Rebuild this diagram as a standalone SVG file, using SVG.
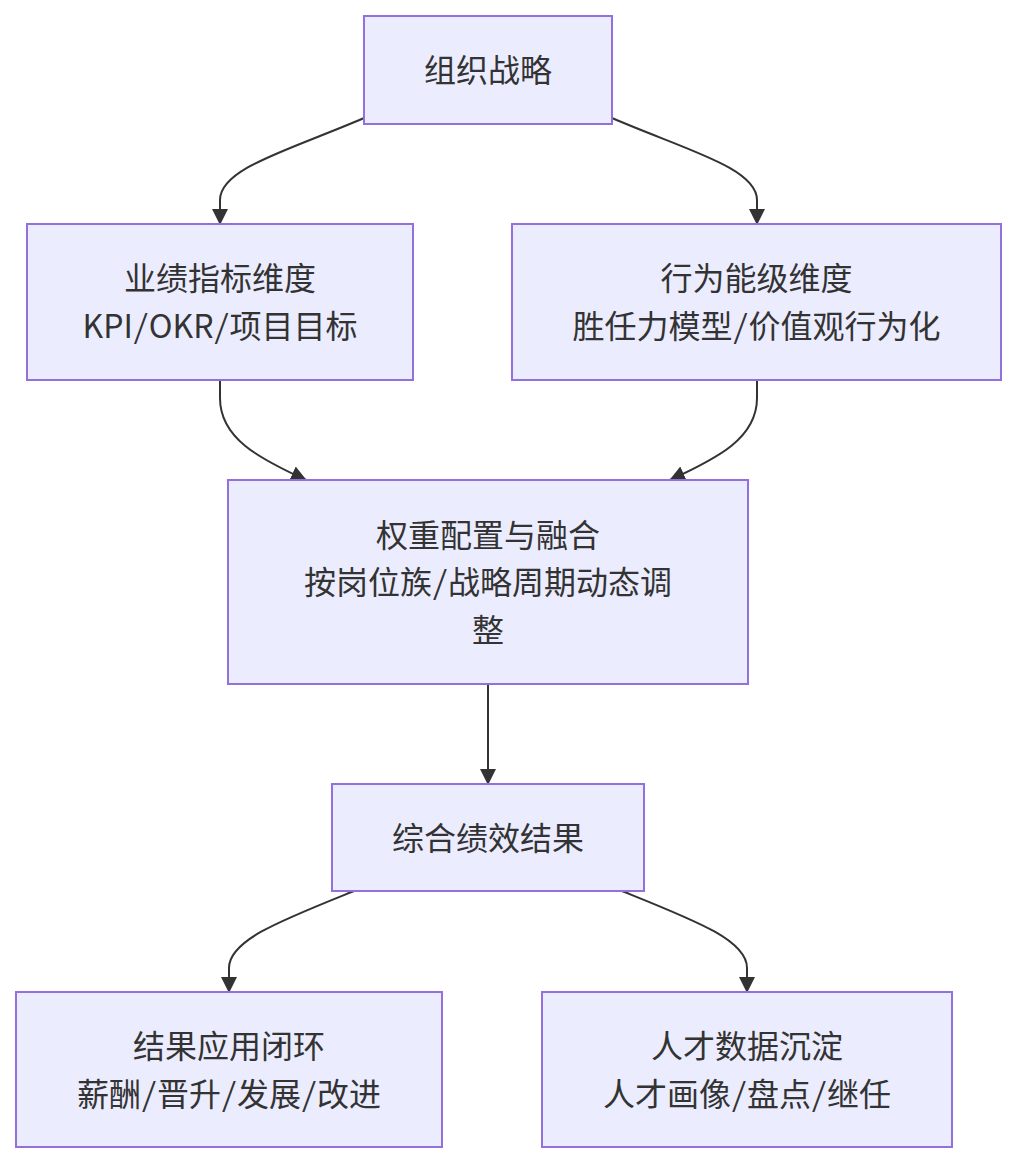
<svg xmlns="http://www.w3.org/2000/svg" width="1017" height="1164" viewBox="0 0 1017 1164">
<style>
.node rect{fill:#ECECFF;stroke:#9370DB;stroke-width:2}
.node text{font-family:"Noto Sans Mono CJK SC","Noto Sans CJK SC","Noto Sans",sans-serif;font-size:32px;fill:#333333;text-anchor:middle;dominant-baseline:central}
.node tspan.lat{font-family:"Noto Sans CJK SC","Noto Sans",sans-serif}
.edges path{fill:none;stroke:#333333;stroke-width:2}
</style>
<defs>
<marker id="arrow" viewBox="0 0 16 16" refX="15" refY="8" markerWidth="16" markerHeight="16" markerUnits="userSpaceOnUse" orient="auto">
<path d="M0,0 L16,8 L0,16 Z" fill="#333333"/>
</marker>
</defs>
<rect width="1017" height="1164" fill="#ffffff"/>
<g class="edges">
<path d="M364,118 C290,150 220,168 220,200 L220,224" marker-end="url(#arrow)"/>
<path d="M612,118 C686,150 757,168 757,200 L757,224" marker-end="url(#arrow)"/>
<path d="M220,380 L220,398 C220,438 258,458 306,480" marker-end="url(#arrow)"/>
<path d="M757,380 L757,398 C757,438 718,458 670,480" marker-end="url(#arrow)"/>
<path d="M488,684 L488,784" marker-end="url(#arrow)"/>
<path d="M354,891 C282,920 229,940 229,968 L229,992" marker-end="url(#arrow)"/>
<path d="M622,891 C694,920 747,940 747,968 L747,992" marker-end="url(#arrow)"/>
</g>
<g id="n1" class="node"><rect x="364" y="16" width="248" height="108"/><text x="488" y="68">组织战略</text></g>
<g id="n2" class="node"><rect x="27" y="224" width="386" height="156"/><text x="220" y="276">业绩指标维度</text><text x="220" y="324"><tspan class="lat">KPI</tspan>/<tspan class="lat">OKR</tspan>/项目目标</text></g>
<g id="n3" class="node"><rect x="512" y="224" width="489" height="156"/><text x="756.5" y="276">行为能级维度</text><text x="756.5" y="324">胜任力模型/价值观行为化</text></g>
<g id="n4" class="node"><rect x="228" y="480" width="520" height="204"/><text x="488" y="533">权重配置与融合</text><text x="488" y="580">按岗位族/战略周期动态调</text><text x="488" y="628">整</text></g>
<g id="n5" class="node"><rect x="332" y="784" width="312" height="107"/><text x="488" y="836">综合绩效结果</text></g>
<g id="n6" class="node"><rect x="16" y="992" width="426" height="155"/><text x="229" y="1044">结果应用闭环</text><text x="229" y="1092">薪酬/晋升/发展/改进</text></g>
<g id="n7" class="node"><rect x="542" y="992" width="410" height="155"/><text x="747" y="1044">人才数据沉淀</text><text x="747" y="1092">人才画像/盘点/继任</text></g>
</svg>
